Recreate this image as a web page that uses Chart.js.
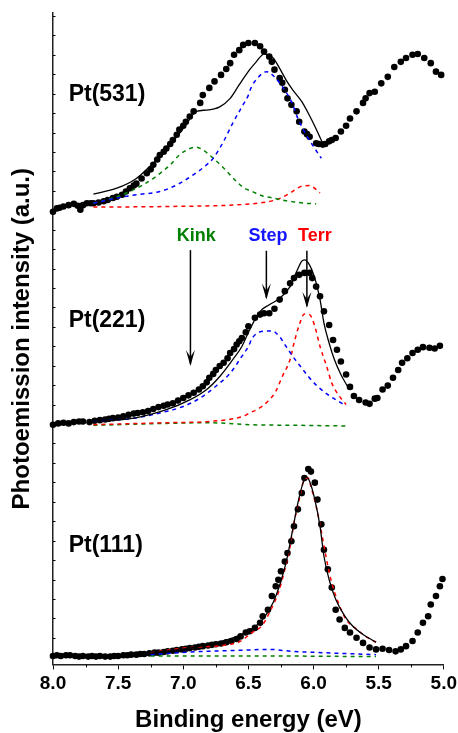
<!DOCTYPE html>
<html>
<head>
<meta charset="utf-8">
<script src="https://cdn.jsdelivr.net/npm/chart.js@4/dist/chart.umd.min.js"></script>
<style>
  html, body { margin: 0; padding: 0; background: #fff; }
  #wrap { width: 458px; height: 733px; }
</style>
</head>
<body>
<div id="wrap"><canvas id="myChart"></canvas></div>
<script>
// ---- Pt(531) ----
var e531 = [8.00,7.97,7.95,7.92,7.88,7.84,7.81,7.79,7.77,7.74,7.71,7.69,7.65,7.61,7.58,7.54,7.51,7.47,7.44,7.41,7.38,7.36,7.32,7.28,7.25,7.23,7.20,7.18,7.15,7.13,7.10,7.08,7.05,7.03,7.00,6.98,6.95,6.92,6.87,6.85,6.80,6.76,6.71,6.67,6.64,6.61,6.57,6.54,6.50,6.45,6.41,6.38,6.34,6.32,6.30,6.26,6.24,6.22,6.20,6.17,6.13,6.11,6.07,6.05,6.03,5.98,5.96,5.93,5.91,5.88,5.86,5.83,5.79,5.75,5.72,5.67,5.62,5.60,5.57,5.53,5.48,5.43,5.38,5.33,5.29,5.24,5.20,5.15,5.10,5.06,5.02];
var i531 = [69.5,70.0,70.1,70.3,70.5,70.7,70.4,69.8,70.5,70.8,70.8,70.8,70.9,71.1,71.3,71.6,71.8,72.1,72.6,73.1,73.5,73.8,74.6,75.4,76.0,76.7,77.5,78.2,78.7,79.2,79.9,80.5,81.3,82.1,82.7,83.3,84.1,84.9,86.2,87.4,88.5,89.5,90.5,91.4,92.3,93.6,94.3,95.1,95.4,95.4,94.9,94.1,93.3,92.5,91.3,90.0,89.3,88.2,86.9,85.9,84.9,83.3,81.8,81.4,81.0,80.0,79.9,79.8,79.9,80.3,80.5,80.8,81.8,82.7,83.8,84.9,86.2,86.9,87.7,87.9,89.2,90.2,91.7,92.5,93.1,93.6,93.7,93.1,92.3,91.0,90.5];
var fitE531 = [7.69,7.51,7.36,7.26,7.15,7.05,6.98,6.90,6.82,6.72,6.64,6.57,6.49,6.44,6.38,6.31,6.26,6.21,6.16,6.09,6.04,5.99,5.93];
var fitI531 = [72.2,73.1,74.6,76.4,78.5,81.0,82.8,84.9,85.1,85.6,86.9,89.0,91.3,92.5,93.7,93.1,91.5,89.7,88.2,86.4,84.6,82.6,80.0];
var stepE531 = [7.69,7.51,7.36,7.18,7.05,6.92,6.82,6.77,6.69,6.62,6.55,6.50,6.48,6.43,6.36,6.30,6.24,6.17,6.12,6.07,6.01,5.94];
var stepI531 = [70.8,71.6,72.1,72.6,73.6,75.2,76.7,77.7,80.3,83.1,85.6,87.4,88.5,90.0,91.0,90.2,88.7,86.4,83.8,81.8,79.8,77.7];
var kinkE531 = [7.69,7.51,7.41,7.31,7.21,7.10,7.03,6.95,6.90,6.85,6.77,6.69,6.59,6.53,6.47,6.39,6.31,6.22,6.15,6.07,5.98];
var kinkI531 = [70.8,71.8,72.6,73.6,74.9,76.7,78.2,79.2,79.4,79.0,77.7,76.2,74.1,73.1,72.6,71.9,71.6,71.2,71.0,70.8,70.7];
var terrE531 = [7.69,7.10,6.54,6.39,6.31,6.24,6.17,6.09,6.03,5.95];
var terrI531 = [70.2,70.3,70.6,70.9,71.2,71.7,72.5,73.4,73.5,72.4];

// ---- Pt(221) ----
var e221 = [8.00,7.96,7.92,7.88,7.84,7.80,7.77,7.72,7.68,7.64,7.60,7.57,7.54,7.50,7.46,7.42,7.38,7.35,7.31,7.27,7.23,7.19,7.15,7.12,7.08,7.04,7.00,6.96,6.92,6.88,6.85,6.82,6.80,6.77,6.75,6.72,6.69,6.66,6.64,6.61,6.59,6.57,6.55,6.52,6.50,6.45,6.41,6.38,6.34,6.30,6.26,6.22,6.18,6.15,6.11,6.07,6.03,6.01,5.98,5.95,5.92,5.88,5.85,5.82,5.79,5.75,5.72,5.69,5.65,5.60,5.57,5.53,5.51,5.47,5.43,5.39,5.35,5.32,5.28,5.24,5.20,5.16,5.11,5.07,5.03];
var i221 = [36.8,37.0,37.1,37.0,37.2,37.3,37.3,37.2,37.4,37.5,37.6,37.7,37.8,37.9,38.1,38.3,38.5,38.6,38.7,38.9,39.2,39.5,39.7,39.9,40.1,40.5,40.9,41.3,41.7,42.2,42.7,43.3,44.0,44.6,45.2,45.8,46.3,47.0,47.8,48.4,49.1,49.6,50.1,51.0,51.9,53.2,53.7,53.9,53.9,54.6,56.0,57.3,58.5,59.3,59.8,60.1,60.1,59.3,58.0,56.5,54.2,52.1,49.8,48.3,46.5,44.5,42.6,41.2,40.6,40.2,40.0,40.8,40.9,42.2,42.8,44.0,45.2,46.3,47.0,47.8,48.3,48.7,48.6,48.5,48.9];
var fitE221 = [7.69,7.38,7.13,6.95,6.82,6.72,6.62,6.55,6.49,6.41,6.34,6.26,6.18,6.13,6.09,6.07,6.03,5.99,5.95,5.92,5.88,5.84,5.79,5.74];
var fitI221 = [37.3,37.8,39.1,40.6,42.2,44.2,46.8,48.8,51.4,54.2,55.2,56.2,58.0,60.3,61.9,62.1,61.3,59.3,56.0,52.4,49.3,46.8,44.5,42.7];
var stepE221 = [7.69,7.38,7.18,7.00,6.87,6.75,6.64,6.55,6.50,6.47,6.40,6.32,6.26,6.21,6.16,6.11,6.04,5.97,5.89,5.81,5.75];
var stepI221 = [37.3,37.8,38.6,39.6,40.9,42.7,44.7,47.3,48.8,50.1,51.1,51.2,50.3,48.8,47.3,46.0,44.2,42.7,41.4,40.4,39.7];
var terrE221 = [7.69,7.13,6.80,6.54,6.49,6.41,6.35,6.29,6.24,6.18,6.15,6.11,6.07,6.03,5.99,5.95,5.90,5.86,5.81,5.75];
var terrI221 = [36.8,37.1,37.3,38.1,38.6,39.4,40.4,41.9,44.2,46.8,49.3,52.1,53.8,53.7,51.9,48.8,45.8,43.2,41.4,39.9];
var kinkE221 = [7.69,7.13,6.80,6.49,6.11,5.74];
var kinkI221 = [36.7,37.0,37.1,36.8,36.7,36.6];

// ---- Pt(111) ----
var e111 = [8.00,7.97,7.94,7.90,7.87,7.83,7.80,7.77,7.73,7.70,7.67,7.64,7.60,7.56,7.53,7.50,7.46,7.43,7.40,7.36,7.33,7.30,7.26,7.22,7.19,7.15,7.12,7.08,7.05,7.01,6.98,6.95,6.91,6.88,6.85,6.81,6.78,6.75,6.71,6.67,6.63,6.59,6.56,6.52,6.49,6.45,6.41,6.39,6.35,6.32,6.29,6.27,6.25,6.22,6.20,6.17,6.15,6.12,6.09,6.07,6.04,6.02,5.99,5.97,5.94,5.92,5.89,5.86,5.83,5.80,5.76,5.72,5.67,5.62,5.57,5.52,5.47,5.42,5.37,5.33,5.29,5.24,5.20,5.16,5.12,5.10,5.06,5.03,5.01];
var i111 = [1.3,1.4,1.3,1.4,1.4,1.3,1.2,1.3,1.2,1.3,1.2,1.3,1.2,1.2,1.3,1.3,1.4,1.4,1.5,1.5,1.6,1.6,1.7,1.8,1.8,1.9,2.0,2.1,2.2,2.3,2.4,2.5,2.6,2.7,2.8,2.9,3.0,3.1,3.2,3.4,3.6,3.9,4.3,4.9,5.1,5.6,6.4,7.4,8.4,10.5,12.0,13.0,14.3,15.8,17.1,18.9,21.2,23.8,26.3,28.6,30.0,29.6,27.9,25.3,21.5,17.6,14.6,11.8,8.4,6.9,5.6,4.9,4.1,3.3,2.6,2.3,2.4,2.2,2.0,2.3,2.8,3.6,4.9,6.4,7.4,9.2,10.5,12.0,13.1];
var fitE111 = [7.26,6.87,6.52,6.39,6.31,6.25,6.20,6.16,6.12,6.08,6.06,6.03,5.99,5.95,5.92,5.88,5.83,5.76,5.70,5.62,5.52];
var fitI111 = [1.7,2.8,4.9,6.9,9.5,12.8,16.6,20.7,24.8,27.9,28.8,28.1,25.3,21.2,16.6,13.0,10.0,7.4,5.9,4.6,3.4];
var terrE111 = [7.25,6.95,6.59,6.47,6.39,6.34,6.27,6.22,6.18,6.15,6.11,6.07,6.04,6.02,5.98,5.94,5.90,5.86,5.81,5.75,5.67,5.60,5.52];
var terrI111 = [1.8,2.6,3.3,4.9,6.1,7.9,11.0,14.6,18.1,21.7,25.3,28.4,28.6,27.3,24.3,20.4,16.1,12.5,9.5,6.9,5.4,4.3,3.4];
var stepE111 = [7.25,6.95,6.52,6.34,6.16,5.93,5.52];
var stepI111 = [1.5,1.9,2.2,2.3,2.0,1.8,1.5];
var kinkE111 = [7.25,6.50,5.52];
var kinkI111 = [1.3,1.3,1.2];

// text on the plot
var sampleNames = ['Pt(531)', 'Pt(221)', 'Pt(111)'];
var sampleLabelPos = [[7.88, 87.4], [7.88, 52.8], [7.88, 18.3]];
var siteNames = ['Kink', 'Step', 'Terr'];
var siteColors = ['rgb(0,128,0)', 'rgb(20,20,255)', 'rgb(255,0,0)'];
var siteLabelPos = [[6.90, 65.7], [6.35, 65.7], [5.99, 65.7]];
// arrows: energy, start intensity, tip intensity
var siteArrows = [[6.945, 63.6, 45.8], [6.362, 63.5, 56.0], [6.051, 63.5, 54.7]];

var GREEN = 'rgb(0,128,0)', BLUE = 'rgb(0,0,255)', RED = 'rgb(255,0,0)';

function pts(e, v) {
    return e.map(function (x, i) { return {x: x, y: v[i]}; });
}
function dots(e, v) {
    return {data: pts(e, v), showLine: false, pointRadius: 3.3, pointBackgroundColor: '#000',
        pointBorderWidth: 0, order: 5, clip: false};
}
function curve(e, v, color, dashed) {
    return {data: pts(e, v), showLine: true, pointRadius: 0, borderColor: color,
        borderWidth: dashed ? 1.5 : 1.3, borderDash: dashed ? [4, 4] : [],
        cubicInterpolationMode: 'monotone', order: 1};
}

var overlay = {
    id: 'overlay',
    afterDraw: function (chart) {
        var ctx = chart.ctx, x = chart.scales.x, y = chart.scales.y;
        var bottom = chart.chartArea.bottom, left = chart.chartArea.left;
        ctx.save();
        ctx.strokeStyle = '#000';
        ctx.lineWidth = 1;
        // minor ticks on the energy axis
        for (var m = 5.25; m < 8; m += 0.5) {
            var px = Math.round(x.getPixelForValue(m)) + 0.5;
            ctx.beginPath(); ctx.moveTo(px, bottom); ctx.lineTo(px, bottom + 3); ctx.stroke();
        }
        // small inward ticks on the intensity axis
        for (var t = 1.1; t < 100; t += 2.983) {
            var py = Math.round(y.getPixelForValue(t)) + 0.5;
            ctx.beginPath(); ctx.moveTo(left, py); ctx.lineTo(left + 2.5, py); ctx.stroke();
        }
        // sample names
        ctx.fillStyle = '#000';
        ctx.font = 'bold 23px "Liberation Sans", Arial, sans-serif';
        ctx.textAlign = 'left';
        ctx.textBaseline = 'middle';
        sampleNames.forEach(function (s, i) {
            ctx.fillText(s, x.getPixelForValue(sampleLabelPos[i][0]), y.getPixelForValue(sampleLabelPos[i][1]));
        });
        // site labels
        ctx.font = 'bold 18px "Liberation Sans", Arial, sans-serif';
        ctx.textAlign = 'center';
        siteNames.forEach(function (s, i) {
            ctx.fillStyle = siteColors[i];
            ctx.fillText(s, x.getPixelForValue(siteLabelPos[i][0]), y.getPixelForValue(siteLabelPos[i][1]));
        });
        // arrows
        ctx.lineWidth = 1.5;
        ctx.fillStyle = '#000';
        siteArrows.forEach(function (a) {
            var ax = x.getPixelForValue(a[0]);
            var y0 = y.getPixelForValue(a[1]), y1 = y.getPixelForValue(a[2]);
            ctx.beginPath(); ctx.moveTo(ax, y0); ctx.lineTo(ax, y1 - 2); ctx.stroke();
            ctx.beginPath();
            ctx.moveTo(ax, y1);
            ctx.lineTo(ax - 4.5, y1 - 16);
            ctx.lineTo(ax, y1 - 9);
            ctx.lineTo(ax + 4.5, y1 - 16);
            ctx.closePath();
            ctx.fill();
        });
        ctx.restore();
    }
};

var ctx = document.getElementById('myChart').getContext('2d');
var chart = new Chart(ctx, {
    type: 'scatter',
    data: {
        datasets: [
            dots(e531, i531),
            curve(fitE531, fitI531, '#000', false),
            curve(stepE531, stepI531, BLUE, true),
            curve(kinkE531, kinkI531, GREEN, true),
            curve(terrE531, terrI531, RED, true),
            dots(e221, i221),
            curve(fitE221, fitI221, '#000', false),
            curve(stepE221, stepI221, BLUE, true),
            curve(terrE221, terrI221, RED, true),
            curve(kinkE221, kinkI221, GREEN, true),
            dots(e111, i111),
            curve(fitE111, fitI111, '#000', false),
            curve(terrE111, terrI111, RED, true),
            curve(stepE111, stepI111, BLUE, true),
            curve(kinkE111, kinkI111, GREEN, true)
        ]
    },
    options: {
        responsive: true,
        maintainAspectRatio: false,
        animation: false,
        layout: {padding: {top: 13, left: 4, right: 0, bottom: 1}},
        plugins: {legend: {display: false}, tooltip: {enabled: false}},
        scales: {
            x: {
                type: 'linear',
                reverse: true,
                min: 5, max: 8,
                ticks: {
                    stepSize: 0.5,
                    padding: 1,
                    color: '#000',
                    font: {family: '"Liberation Sans", Arial, sans-serif', size: 19, weight: 'bold', lineHeight: 1.4},
                    callback: function (v) { return v.toFixed(1); }
                },
                grid: {drawOnChartArea: false, drawTicks: true, tickLength: 5, tickColor: '#000', tickWidth: 1},
                border: {display: true, color: '#222', width: 1.5},
                title: {
                    display: true,
                    text: 'Binding energy (eV)',
                    color: '#000',
                    padding: {top: 10, bottom: 0},
                    font: {family: '"Liberation Sans", Arial, sans-serif', size: 24, weight: 'bold', lineHeight: 1}
                }
            },
            y: {
                type: 'linear',
                min: 0, max: 100,
                ticks: {display: false},
                grid: {display: false, drawTicks: false},
                border: {display: true, color: '#222', width: 1.5},
                title: {
                    display: true,
                    text: 'Photoemission intensity (a.u.)',
                    color: '#000',
                    padding: {top: 6, bottom: 19},
                    font: {family: '"Liberation Sans", Arial, sans-serif', size: 24, weight: 'bold', lineHeight: 1}
                }
            }
        }
    },
    plugins: [overlay]
});
</script>
</body>
</html>
